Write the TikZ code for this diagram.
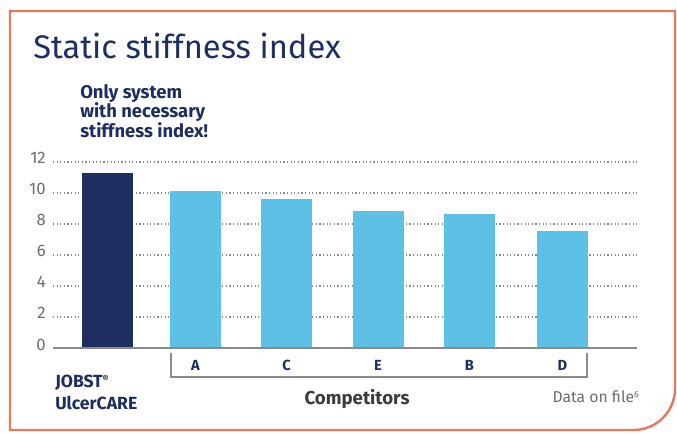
\documentclass[tikz,border=0pt]{standalone}
\usepackage{fontspec}
\setmainfont{Fira Sans}
\usetikzlibrary{positioning}
\definecolor{navy}{HTML}{1F2E61}
\definecolor{lblue}{HTML}{5CC1E5}
\definecolor{frame}{HTML}{E5785F}
\definecolor{tick}{HTML}{6E6E6E}
\definecolor{grid}{HTML}{8A8A8A}
\definecolor{comp}{HTML}{3C3C3C}
\tikzset{
  bar/.style={anchor=south, inner sep=0pt, minimum width=38.25pt},
  ticklab/.style={anchor=east, text=tick, font=\fontsize{12.5}{14}\selectfont, inner sep=0pt},
  gridline/.style={grid, line width=0.9pt, dash pattern=on 0.9pt off 1.8pt},
  letter/.style={text=navy, font=\bfseries\fontsize{11}{13}\selectfont, inner sep=0pt},
}
\begin{document}
\begin{tikzpicture}[x=0.75pt,y=-0.75pt]
\useasboundingbox (0,0) rectangle (677,434);
\fill[white] (0,0) rectangle (677,434);
% frame
\draw[frame, line width=1.8pt] (10,11) -- (675,11) [rounded corners=31pt] -- (675,430) [sharp corners] -- (10,430) -- cycle;
% title
\node[anchor=west, text=navy, font=\fontsize{24.5}{28}\selectfont, inner sep=0pt] (title) at (33,46) {Static stiffness index};
\node[anchor=north west, text=navy, font=\bfseries\fontsize{13.8}{14.7}\selectfont, align=left, inner sep=0pt] (note) at (80,84) {Only system\\with necessary\\stiffness index!};
% grid
\foreach \v in {2,4,...,12} {
  \draw[gridline] (53,{348-15.5*\v}) -- (637,{348-15.5*\v});
  \node[ticklab] (t\v) at (46,{344-15.5*\v}) {\v};
}
\node[ticklab] (t0) at (46,345) {0};
% bars
\node[bar, fill=navy,  minimum height={11.3*15.5*0.75pt}] (bJ) at (107.5,348) {};
\node[bar, fill=lblue, minimum height={10.1*15.5*0.75pt}] (bA) at (195.5,348) {};
\node[bar, fill=lblue, minimum height={9.6*15.5*0.75pt}]  (bC) at (286.5,348) {};
\node[bar, fill=lblue, minimum height={8.8*15.5*0.75pt}]  (bE) at (378,348) {};
\node[bar, fill=lblue, minimum height={8.6*15.5*0.75pt}]  (bB) at (469.5,348) {};
\node[bar, fill=lblue, minimum height={7.5*15.5*0.75pt}]  (bD) at (562.5,348) {};
% baseline
\draw[grid, line width=1.3pt] (53,348) -- (637,348);
% bracket
\draw[grid, line width=1.2pt] (171,353) -- (171,377) -- (587,377) -- (587,353);
% letters
\node[letter] (lA) at (195.5,365) {A};
\node[letter] (lC) at (286.5,365) {C};
\node[letter] (lE) at (378,365) {E};
\node[letter] (lB) at (469.5,365) {B};
\node[letter] (lD) at (562.5,365) {D};
% labels
\node[anchor=north west, text=navy, font=\bfseries\fontsize{13.2}{16.5}\selectfont, align=left, inner sep=0pt] (jobst) at (55,375) {JOBST\raisebox{0.55ex}{\fontsize{7}{8}\selectfont®}\\UlcerCARE};
\node[text=comp, font=\bfseries\fontsize{14}{16}\selectfont, inner sep=0pt] (competitors) at (357,399) {Competitors};
\node[anchor=east, text=tick, font=\fontsize{11.8}{13}\selectfont, inner sep=0pt] (data) at (639,397) {Data on file\raisebox{0.6ex}{\fontsize{6.5}{7}\selectfont 6}};
\end{tikzpicture}
\end{document}
